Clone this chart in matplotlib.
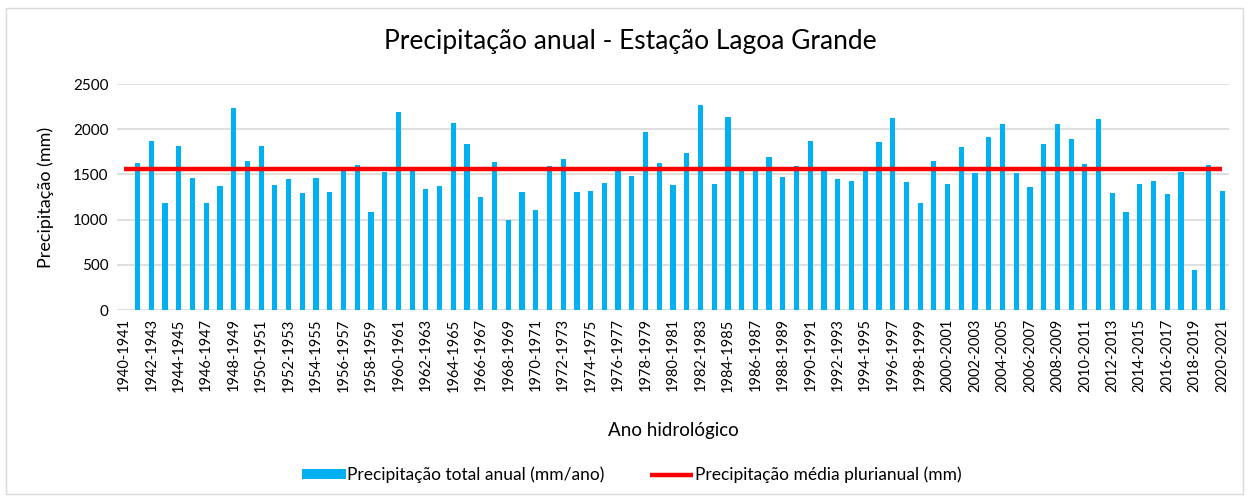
import numpy as np
import matplotlib
matplotlib.use('Agg')
import matplotlib.pyplot as plt
from matplotlib.patches import Rectangle

plt.rcParams['font.family'] = ['Lato', 'DejaVu Sans']

# hydrological years 1940-1941 .. 2020-2021
start_years = list(range(1940, 2021))
year_labels = ['{}-{}'.format(y, y + 1) for y in start_years]

# annual precipitation (mm/year), no record for 1940-1941
precip_total = [
    np.nan,
    1622, 1874, 1189, 1819, 1456, 1189, 1370, 2233, 1644, 1811,
    1378, 1448, 1293, 1456, 1300, 1550, 1600, 1089, 1530, 2189,
    1545, 1341, 1370, 2067, 1841, 1252, 1633, 993, 1307, 1107,
    1596, 1670, 1307, 1315, 1404, 1545, 1485, 1970, 1622, 1378,
    1733, 2270, 1396, 2133, 1550, 1550, 1689, 1474, 1596, 1874,
    1545, 1444, 1426, 1550, 1856, 2122, 1415, 1189, 1644, 1393,
    1800, 1511, 1919, 2052, 1519, 1359, 1837, 2063, 1896, 1611,
    2111, 1289, 1085, 1389, 1426, 1278, 1526, 448, 1607, 1315,
]
precip_mean = 1563

y_ticks = [0, 500, 1000, 1500, 2000, 2500]

BLUE = '#00B0F0'
RED = '#FF0000'
GRID = '#D9D9D9'

fig = plt.figure(figsize=(12.48, 4.97), dpi=100)
ax = fig.add_axes([117 / 1248, 1 - 310 / 497, 1112 / 1248, 226 / 497])

x = np.arange(len(year_labels))
bars = ax.bar(x, precip_total, width=0.38, color=BLUE,
              label='Precipitação total anual (mm/ano)', zorder=2)
line, = ax.plot([x[0], x[-1]], [precip_mean, precip_mean], color=RED,
                lw=3.2, label='Precipitação média plurianual (mm)',
                zorder=3, solid_capstyle='butt')

ax.set_xlim(-0.5, len(x) - 0.5)
ax.set_ylim(0, 2500)
ax.set_yticks(y_ticks)
ax.set_yticklabels([str(v) for v in y_ticks], fontsize=11)
ax.set_xticks(x[::2])
ax.set_xticklabels(year_labels[::2], rotation=90, fontsize=10.5)
ax.tick_params(axis='both', length=0, pad=6)
ax.yaxis.grid(True, color=GRID, lw=1.2, zorder=0)
ax.set_axisbelow(True)
for s in ax.spines.values():
    s.set_visible(False)

fig.text(0.505, 1 - 42 / 497, 'Precipitação anual - Estação Lagoa Grande',
         fontsize=19, ha='center', va='center')
ax.set_ylabel('Precipitação (mm)', fontsize=13)
ax.yaxis.set_label_coords(-0.057, 0.5)
ax.set_xlabel('Ano hidrológico', fontsize=13.5)
ax.xaxis.set_label_coords(0.5, -0.495)

fig.legend([bars, line], [bars.get_label(), line.get_label()],
           loc='center', bbox_to_anchor=(632 / 1248, 1 - 475 / 497),
           ncol=2, frameon=False, fontsize=12.5, handlelength=2.5,
           handleheight=0.55, handletextpad=0.1, columnspacing=2.6,
           borderpad=0)

# light chart border
fig.patches.append(Rectangle((6 / 1248, 3 / 497), 1237 / 1248, 486 / 497,
                             transform=fig.transFigure, fill=False,
                             edgecolor='#D9D9D9', lw=1))

fig.savefig('out.png', dpi=100)
